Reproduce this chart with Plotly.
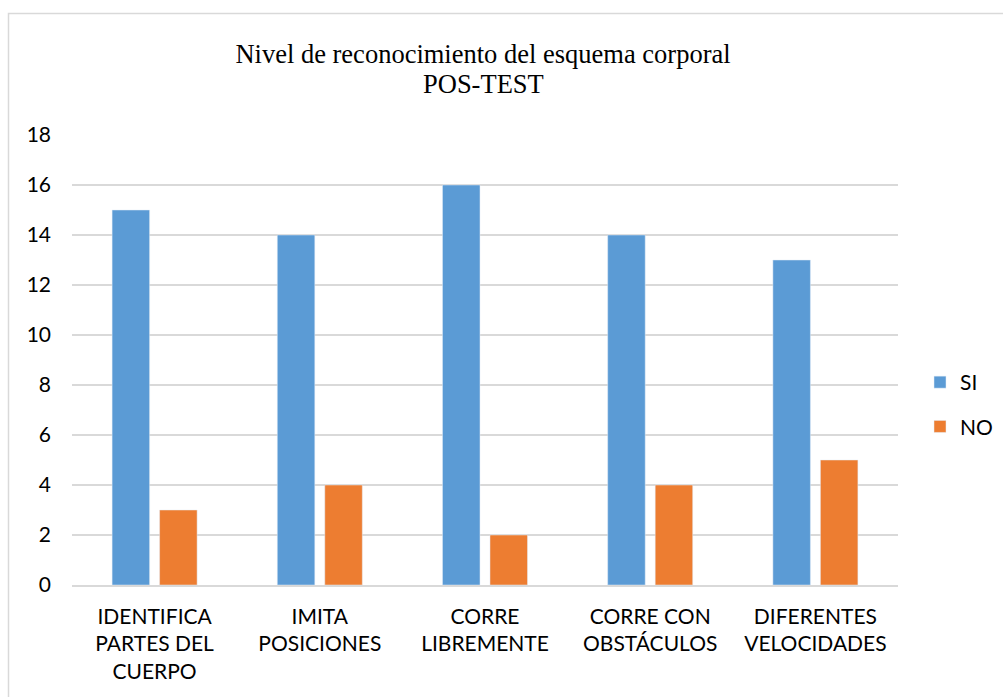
import plotly.graph_objects as go

categories = ["IDENTIFICA<br>PARTES DEL<br>CUERPO", "IMITA<br>POSICIONES", "CORRE<br>LIBREMENTE",
              "CORRE CON<br>OBSTÁCULOS", "DIFERENTES<br>VELOCIDADES"]
si_values = [15, 14, 16, 14, 13]
no_values = [3, 4, 2, 4, 5]
y_ticks = [0, 2, 4, 6, 8, 10, 12, 14, 16, 18]
title_line1 = "Nivel de reconocimiento del esquema corporal"
title_line2 = "POS-TEST"

L, R, T, B = 72, 105, 135, 112
W, H = 1003, 697
pw, ph = W - L - R, H - T - B


def px_x(p):
    return (p - L) / pw


def px_y(p):
    return 1 - (p - T) / ph


fig = go.Figure()
fig.add_trace(go.Bar(name="SI", x=categories, y=si_values, marker_color="#5B9BD5", legendgroup="si"))
fig.add_trace(go.Bar(name="NO", x=categories, y=no_values, marker_color="#ED7D31", legendgroup="no"))

serif = "Liberation Serif, Times New Roman, serif"

fig.update_layout(
    width=W, height=H,
    margin=dict(l=L, r=R, t=T, b=B, autoexpand=False),
    paper_bgcolor="white", plot_bgcolor="white",
    barmode="group", bargap=0.425, bargroupgap=0.21,
    font=dict(family="Lato, Carlito, sans-serif", size=21, color="#000000"),
    title=dict(text=title_line1,
               font=dict(family=serif, size=26.5, color="#000000"),
               x=483 / W, xanchor="center", xref="container",
               y=1 - 54 / H, yanchor="middle", yref="container"),
    annotations=[dict(text=title_line2, xref="paper", yref="paper",
                      x=px_x(483), y=px_y(84), xanchor="center", yanchor="middle",
                      showarrow=False, font=dict(family=serif, size=26.5, color="#000000"))],
    xaxis=dict(showgrid=False, showline=True, linecolor="#D9D9D9", linewidth=1.5,
               ticks="", tickfont=dict(size=21), ticklabelstandoff=12, fixedrange=True),
    yaxis=dict(range=[0, 18], tickvals=y_ticks, showgrid=True, gridcolor="#D9D9D9", gridwidth=1.5,
               zeroline=False, showline=False, ticks="", ticklabelstandoff=20,
               tickfont=dict(size=21), fixedrange=True),
    legend=dict(x=px_x(920), xanchor="left", y=px_y(362), yanchor="top",
                traceorder="grouped", tracegroupgap=14, font=dict(size=21),
                bgcolor="rgba(0,0,0,0)"),
    shapes=[dict(type="rect", xref="paper", yref="paper",
                 x0=px_x(8.5), x1=px_x(1003 + 20), y0=px_y(697 + 20), y1=px_y(13.5),
                 line=dict(color="#D9D9D9", width=1.5), fillcolor="rgba(0,0,0,0)", layer="below")],
)

fig.write_html("out.html", config={"displayModeBar": False},
               post_script="document.body.style.margin='0';")
